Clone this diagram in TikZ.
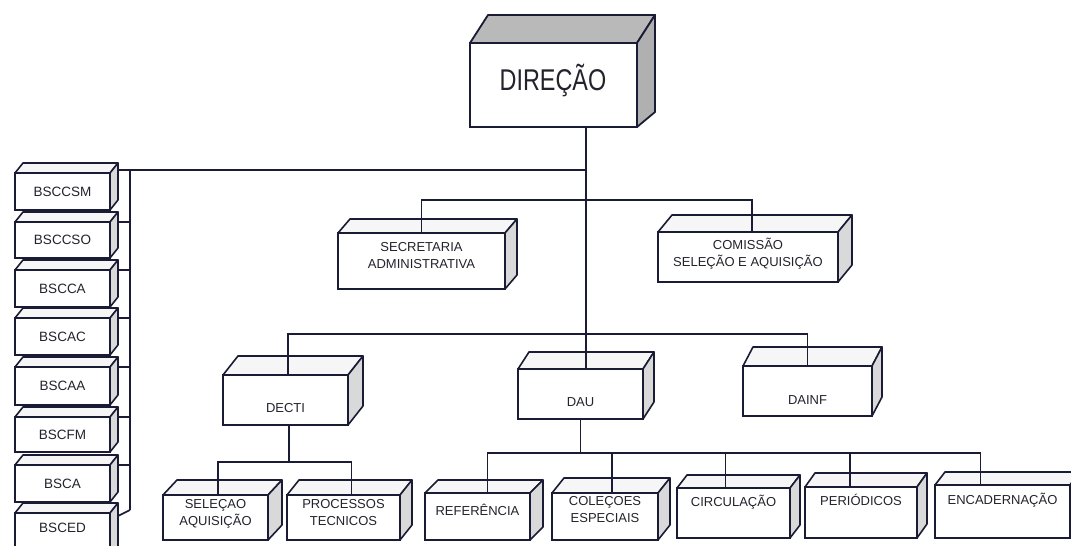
\documentclass[tikz,border=0pt]{standalone}
\usepackage{fontspec}
\setmainfont{Liberation Sans}
\newfontfamily\narrowfont[FakeStretch=0.78]{Liberation Sans}
\usetikzlibrary{calc}
\definecolor{ink}{RGB}{25,28,52}
\definecolor{txt}{RGB}{35,35,45}
\tikzset{
  front/.style={draw=ink, line width=2pt, fill=white, inner sep=0pt, outer sep=0pt, rectangle},
  topf/.style={draw=ink, line width=1.6pt, fill=gray!7, line join=round},
  sidef/.style={draw=ink, line width=1.6pt, fill=gray!30, line join=round},
  lbl/.style={text=txt, font=\fontsize{13}{17}\selectfont, align=center, inner sep=0pt},
  conn/.style={draw=ink, line width=1.7pt},
}
% #1 name #2 x1 #3 y1 #4 x2 #5 y2 #6 dx #7 dy #8 text y #9 text
\newcommand\cube[9]{%
  \node[front, minimum width={#4-#2}, minimum height={#5-#3}] (#1) at ({(#2+#4)/2},{(#3+#5)/2}) {};
  \filldraw[topf] (#1.north west) -- ++(#6,-#7) -- ([shift={(#6,-#7)}]#1.north east) -- (#1.north east) -- cycle;
  \filldraw[sidef] (#1.north east) -- ([shift={(#6,-#7)}]#1.north east) -- ([shift={(#6,-#7)}]#1.south east) -- (#1.south east) -- cycle;
  \node[lbl] (#1-t) at ({(#2+#4)/2},#8) {#9};
}
\begin{document}
\begin{tikzpicture}[x=1pt, y=-1pt]
\useasboundingbox (0,0) rectangle (1071,546);
\fill[white] (0,0) rectangle (1071,546);
\clip (0,0) rectangle (1071,546);

% DIRECAO
\node[front, line width=2.2pt, minimum width=167, minimum height=84] (dir) at (553.5,85) {};
\filldraw[draw=ink, line width=1.8pt, fill=gray!55, line join=round] (dir.north west) -- ++(18,-28) -- ([shift={(18,-28)}]dir.north east) -- (dir.north east) -- cycle;
\filldraw[draw=ink, line width=1.8pt, fill=gray!62, line join=round] (dir.north east) -- ++(18,-28) -- ++(0,97) -- (dir.south east) -- cycle;
\node[text=txt, inner sep=0pt, font=\narrowfont\fontsize{30}{30}\selectfont] (dir-t) at (553,81) {DIREÇÃO};

% left column
\begin{scope}[lbl/.append style={font=\fontsize{13.5}{17}\selectfont}]
\cube{b1}{15}{173}{110}{210}{8}{10}{191.5}{BSCCSM}
\cube{b2}{15}{222}{110}{258}{8}{10}{240}{BSCCSO}
\cube{b3}{15}{270}{110}{307}{8}{10}{288.5}{BSCCA}
\cube{b4}{15}{318}{110}{355}{8}{10}{336.5}{BSCAC}
\cube{b5}{15}{367}{110}{405}{8}{10}{386}{BSCAA}
\cube{b6}{15}{417}{110}{452}{8}{10}{434.5}{BSCFM}
\cube{b7}{15}{465}{110}{502}{8}{10}{483.5}{BSCA}
\cube{b8}{15}{513}{110}{560}{8}{10}{528}{BSCED}
\end{scope}

% second level
\cube{sec}{338}{233}{505}{289}{12}{14}{256}{SECRETARIA\\ADMINISTRATIVA}
\cube{com}{658}{232}{838}{282}{14}{17}{254}{COMISSÃO\\SELEÇÃO E AQUISIÇÃO}

% third level
\cube{decti}{223}{375}{348}{425}{15}{19}{408}{DECTI}
\cube{dau}{518}{369}{643}{419}{11}{17}{402}{DAU}
\cube{dainf}{743}{366}{872}{416}{10}{19}{400}{DAINF}

% bottom level
\cube{sel}{163}{495}{268}{540}{14}{15}{514}{SELEÇAO\\AQUISIÇÃO}
\cube{pro}{287}{495}{400}{540}{12}{15}{513}{PROCESSOS\\TECNICOS}
\cube{ref}{425}{493}{530}{540}{13}{13}{510}{REFERÊNCIA}
\cube{col}{552}{493}{658}{540}{12}{15}{510}{COLEÇOES\\ESPECIAIS}
\cube{cir}{677}{488}{790}{538}{10}{13}{502}{CIRCULAÇÃO}
\cube{per}{805}{487}{917}{538}{10}{14}{500}{PERIÓDICOS}
\cube{enc}{935}{485}{1070}{538}{10}{13}{500}{ENCADERNAÇÃO}

% connectors
\coordinate (j1) at (586,170);
\coordinate (lv) at (130,170);
\coordinate (j2) at (586,200);
\coordinate (j3) at (586,334);
\coordinate (j4) at (289,462);
\coordinate (j5) at (580,453);

\draw[conn] (j1 |- dir.south) -- (j1 |- dau.north);
\draw[conn] (j1) -- ([shift={(8,-3)}]b1.north east);
\draw[conn] (lv) -- (130,510);
\foreach \b in {b2,b3,b4,b5,b6,b7}{
  \draw[conn] ([xshift=8pt]\b.north east) -- (lv |- \b.north);
}
\draw[conn] ([shift={(8,3)}]b8.north east) -- (130,510);

\draw[conn] (sec.north) -- (sec.north |- j2) -- ([xshift=4pt]com.north |- j2) -- ([xshift=4pt]com.north);
\draw[conn] ([xshift=2.5pt]decti.north) -- ([xshift=2.5pt]decti.north |- j3) -- (dainf.north |- j3) -- (dainf.north);

\draw[conn] ([xshift=3.5pt]decti.south) -- (j4);
\draw[conn] ([xshift=2.5pt]sel.north) -- ([xshift=2.5pt]sel.north |- j4) -- ([xshift=8pt]pro.north |- j4) -- ([xshift=8pt]pro.north);

\draw[conn] (dau.south) -- (dau.south |- j5);
\draw[conn] ([xshift=10pt]ref.north) -- ([xshift=10pt]ref.north |- j5) -- ([xshift=-22pt]enc.north |- j5) -- ([xshift=-22pt]enc.north);
\draw[conn] ([xshift=7pt]col.north |- j5) -- ([xshift=7pt]col.north);
\draw[conn] ([xshift=-8pt]cir.north |- j5) -- ([xshift=-8pt]cir.north);
\draw[conn] ([xshift=-11pt]per.north |- j5) -- ([xshift=-11pt]per.north);
\end{tikzpicture}
\end{document}
